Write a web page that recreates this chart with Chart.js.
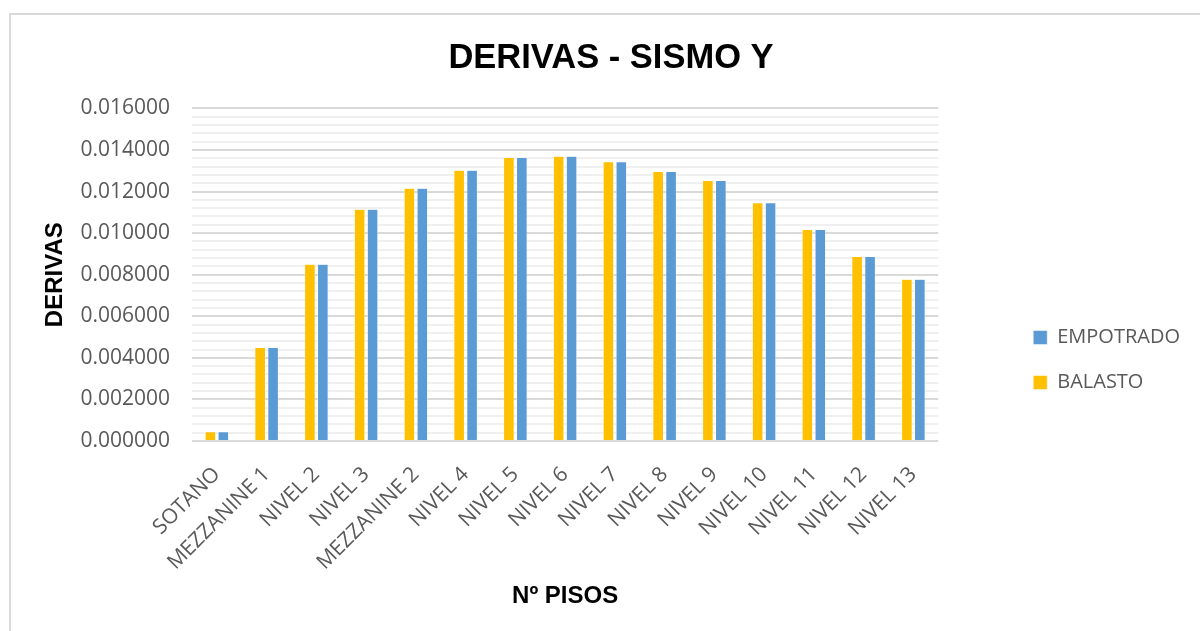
<!DOCTYPE html>
<html>
<head>
<meta charset="utf-8">
<script src="https://cdn.jsdelivr.net/npm/chart.js@4/dist/chart.umd.min.js"></script>
<style>
    html, body { margin: 0; padding: 0; background: #fff; overflow: hidden; }
    #frame {
        position: absolute; left: 9px; top: 13px;
        width: 1300px; height: 800px;
        border: 2px solid #d9d9d9;
    }
    #wrap { position: absolute; left: 0; top: 0; width: 1200px; height: 706px; }
</style>
</head>
<body>
<div id="frame"></div>
<div id="wrap"><canvas id="derivasChart"></canvas></div>
<script>
// Floors (x categories)
const pisos = ['SOTANO', 'MEZZANINE 1', 'NIVEL 2', 'NIVEL 3', 'MEZZANINE 2', 'NIVEL 4', 'NIVEL 5',
    'NIVEL 6', 'NIVEL 7', 'NIVEL 8', 'NIVEL 9', 'NIVEL 10', 'NIVEL 11', 'NIVEL 12', 'NIVEL 13'];

// Drift per floor
const balasto = [0.00045, 0.00450, 0.00850, 0.01115, 0.01216, 0.01303, 0.01364,
    0.01370, 0.01343, 0.01297, 0.01253, 0.01146, 0.01018, 0.00888, 0.00778];
const empotrado = [0.00045, 0.00450, 0.00850, 0.01115, 0.01216, 0.01303, 0.01364,
    0.01370, 0.01343, 0.01297, 0.01253, 0.01146, 0.01018, 0.00888, 0.00778];

// Y axis: labelled every 0.002, light minor lines every 0.0004
const yMin = 0;
const yMax = 0.016;
const yMajor = 0.002;
const yMinor = 0.0004;

const textColor = '#595959';
const bodyFont = "'Open Sans', sans-serif";
const boldFont = "'Liberation Sans', Arial, sans-serif";

function isMajor(value) {
    return Math.round(value / yMinor) % Math.round(yMajor / yMinor) === 0;
}

const ctx = document.getElementById('derivasChart').getContext('2d');
new Chart(ctx, {
    type: 'bar',
    data: {
        labels: pisos,
        datasets: [
            {
                label: 'BALASTO',
                data: balasto,
                backgroundColor: '#FFC000',
                borderColor: '#ffffff',
                borderWidth: 0.5,
                categoryPercentage: 0.52,
                barPercentage: 0.82
            },
            {
                label: 'EMPOTRADO',
                data: empotrado,
                backgroundColor: '#5B9BD5',
                borderColor: '#ffffff',
                borderWidth: 0.5,
                categoryPercentage: 0.52,
                barPercentage: 0.82
            }
        ]
    },
    options: {
        responsive: true,
        maintainAspectRatio: false,
        animation: false,
        layout: { padding: { top: 14, left: 32, right: 10, bottom: 0 } },
        plugins: {
            title: {
                display: true,
                text: 'DERIVAS - SISMO Y',
                color: '#000',
                font: { family: boldFont, size: 34.5, weight: 'bold' },
                padding: { top: 24, bottom: 29 }
            },
            legend: {
                position: 'right',
                reverse: true,
                labels: {
                    color: textColor,
                    font: { family: bodyFont, size: 20 },
                    boxWidth: 14,
                    boxHeight: 14,
                    padding: 25
                }
            },
            tooltip: { enabled: false }
        },
        scales: {
            x: {
                grid: { display: false },
                border: { display: false },
                ticks: {
                    color: textColor,
                    font: { family: bodyFont, size: 21 },
                    minRotation: 45,
                    maxRotation: 45,
                    autoSkip: false,
                    padding: 13
                },
                title: {
                    display: true,
                    text: 'Nº PISOS',
                    color: '#000',
                    font: { family: boldFont, size: 24, weight: 'bold' },
                    padding: { top: 0, bottom: 95 }
                },
                afterFit: scale => { scale.height = 265; }
            },
            y: {
                min: yMin,
                max: yMax,
                border: { display: false },
                grid: {
                    drawTicks: false,
                    color: c => isMajor(c.tick.value) ? '#d9d9d9' : '#f0f0f0',
                    lineWidth: 2
                },
                ticks: {
                    stepSize: yMinor,
                    maxTicksLimit: 100,
                    autoSkip: false,
                    padding: 22,
                    color: textColor,
                    font: { family: bodyFont, size: 21 },
                    callback: value => isMajor(value) ? value.toFixed(6) : ''
                },
                title: {
                    display: true,
                    text: 'DERIVAS',
                    color: '#000',
                    font: { family: boldFont, size: 24, weight: 'bold' },
                    padding: { top: 9 }
                },
                afterFit: scale => { scale.width = 160; }
            },
            // empty spacer between the plot and the legend
            gap: {
                position: 'right',
                grid: { display: false },
                border: { display: false },
                ticks: { display: false },
                afterFit: scale => { scale.width = 70; }
            }
        }
    }
});
</script>
</body>
</html>
